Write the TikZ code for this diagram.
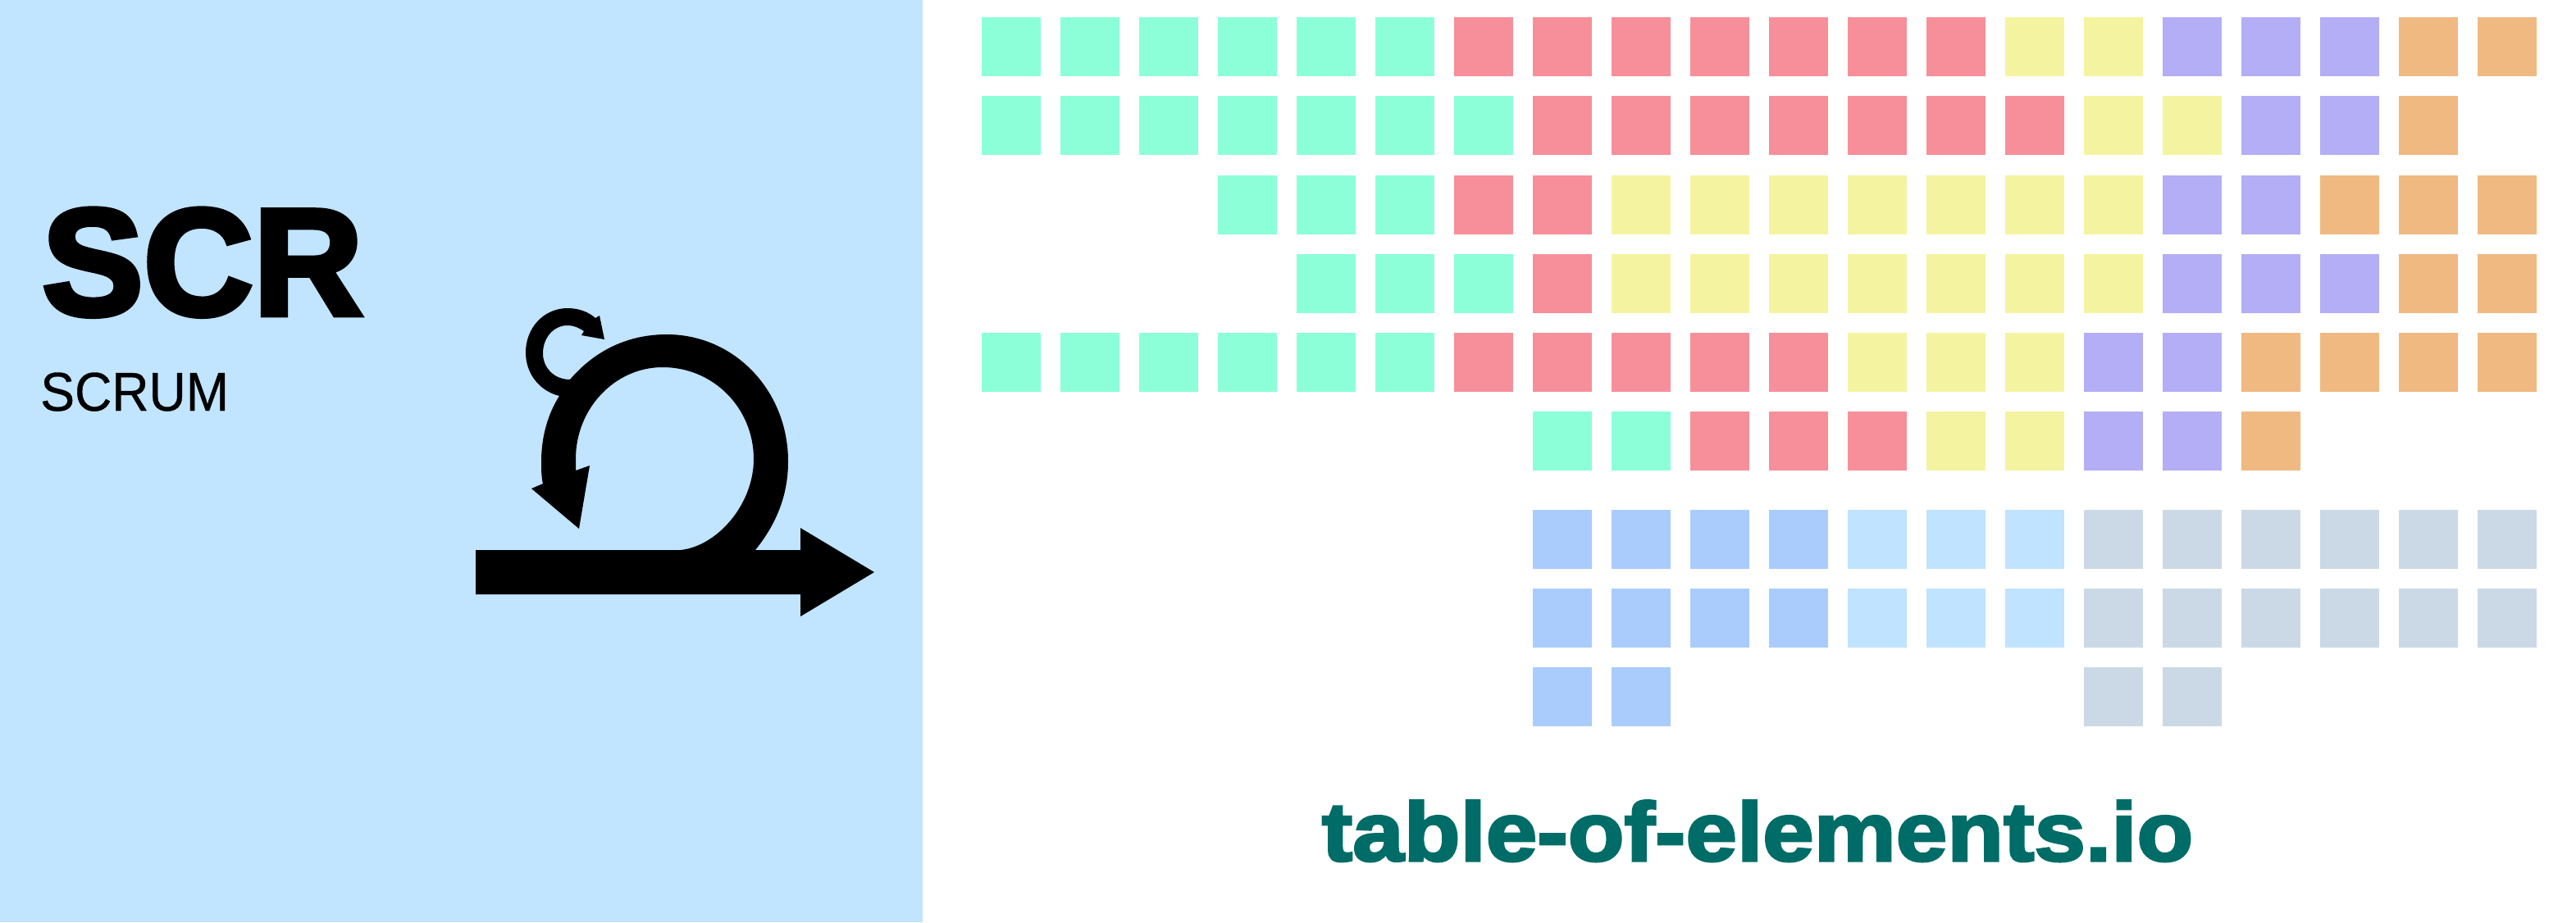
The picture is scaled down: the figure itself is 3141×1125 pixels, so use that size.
\documentclass[tikz,border=0pt]{standalone}
\usepackage{fontspec}
\newfontfamily\heavyfont[BoldFeatures={FakeBold=3.5}]{Liberation Sans}
\newfontfamily\sitefont[BoldFeatures={FakeBold=3,FakeStretch=1.11}]{Liberation Sans}
\newfontfamily\plainfont[FakeBold=0.5,FakeStretch=0.94]{Liberation Sans}

\definecolor{panelblue}{RGB}{193,228,255}
\definecolor{cellgreen}{RGB}{140,255,217}
\definecolor{cellred}{RGB}{247,143,154}
\definecolor{cellyellow}{RGB}{244,244,160}
\definecolor{cellpurple}{RGB}{179,174,245}
\definecolor{cellorange}{RGB}{240,185,129}
\definecolor{cellblue}{RGB}{169,204,252}
\definecolor{celllight}{RGB}{192,227,255}
\definecolor{cellgray}{RGB}{203,217,230}
\definecolor{linkteal}{RGB}{0,108,103}

\newcommand{\cells}[3]{%
  \foreach \col in {#3} {
    \fill [#1] ({1197+96*\col},#2) rectangle ++(72,72);
  }%
}

\begin{document}
\begin{tikzpicture}[x=0.75pt, y=0.75pt, yscale=-1,xscale=1]

    \useasboundingbox (0,0) rectangle (3141,1125);
    \fill [white] (0,0) rectangle (3141,1125);

    % Left panel
    \fill [panelblue] (0,0) rectangle (1125,1125);

    % Row 1
    \cells{cellgreen}{21}{0,...,5}
    \cells{cellred}{21}{6,...,12}
    \cells{cellyellow}{21}{13,14}
    \cells{cellpurple}{21}{15,16,17}
    \cells{cellorange}{21}{18,19}

    % Row 2
    \cells{cellgreen}{117}{0,...,6}
    \cells{cellred}{117}{7,...,13}
    \cells{cellyellow}{117}{14,15}
    \cells{cellpurple}{117}{16,17}
    \cells{cellorange}{117}{18}

    % Row 3
    \cells{cellgreen}{214}{3,4,5}
    \cells{cellred}{214}{6,7}
    \cells{cellyellow}{214}{8,...,14}
    \cells{cellpurple}{214}{15,16}
    \cells{cellorange}{214}{17,18,19}

    % Row 4
    \cells{cellgreen}{310}{4,5,6}
    \cells{cellred}{310}{7}
    \cells{cellyellow}{310}{8,...,14}
    \cells{cellpurple}{310}{15,16,17}
    \cells{cellorange}{310}{18,19}

    % Row 5
    \cells{cellgreen}{406}{0,...,5}
    \cells{cellred}{406}{6,...,10}
    \cells{cellyellow}{406}{11,12,13}
    \cells{cellpurple}{406}{14,15}
    \cells{cellorange}{406}{16,...,19}

    % Row 6
    \cells{cellgreen}{502}{7,8}
    \cells{cellred}{502}{9,10,11}
    \cells{cellyellow}{502}{12,13}
    \cells{cellpurple}{502}{14,15}
    \cells{cellorange}{502}{16}

    % Rows 7 - 9
    \cells{cellblue}{622}{7,8,9,10}
    \cells{celllight}{622}{11,12,13}
    \cells{cellgray}{622}{14,...,19}
    \cells{cellblue}{718}{7,8,9,10}
    \cells{celllight}{718}{11,12,13}
    \cells{cellgray}{718}{14,...,19}
    \cells{cellblue}{814}{7,8}
    \cells{cellgray}{814}{14,15}

    % Labels
    \node (symbol) [anchor=base west, inner sep=0pt] at (51,384)
          {\fontsize{139}{139}\heavyfont\bfseries SCR};
    \node (name) [anchor=base west, inner sep=0pt] at (49,501)
          {\fontsize{50}{50}\plainfont SCRUM};
    \node (site) [anchor=base, inner sep=0pt, text=linkteal] at (2143,1050)
          {\fontsize{76}{76}\sitefont\bfseries table-of-elements.io};

    % Loop and main arrow
    \fill [black] (580,671) -- (830,671)
          .. controls (875,666) and (919,615) .. (919,560)
          .. controls (919,498) and (870,448) .. (808,448)
          .. controls (750,448) and (702,498) .. (702,560)
          -- (702,574) -- (719,568) -- (706,645) -- (648,596) -- (662,590)
          .. controls (660,582) and (660,572) .. (660,563)
          .. controls (660,533) and (668,505) .. (682,483)
          .. controls (658,477) and (641,456) .. (641,430)
          .. controls (641,400) and (663,376) .. (692,376)
          .. controls (705,376) and (717,380) .. (726,388)
          -- (731,385) -- (737,414) -- (709,409) -- (712,404)
          .. controls (706,400) and (700,397) .. (692,397)
          .. controls (675,397) and (662,412) .. (662,431)
          .. controls (662,448) and (675,463) .. (695,463)
          .. controls (725,428) and (765,408) .. (813,408)
          .. controls (896,408) and (961,477) .. (961,563)
          .. controls (961,605) and (946,640) .. (921,671)
          -- (976,671) -- (976,644) -- (1066,698) -- (976,752)
          -- (976,725) -- (580,725) -- cycle;

\end{tikzpicture}
\end{document}
